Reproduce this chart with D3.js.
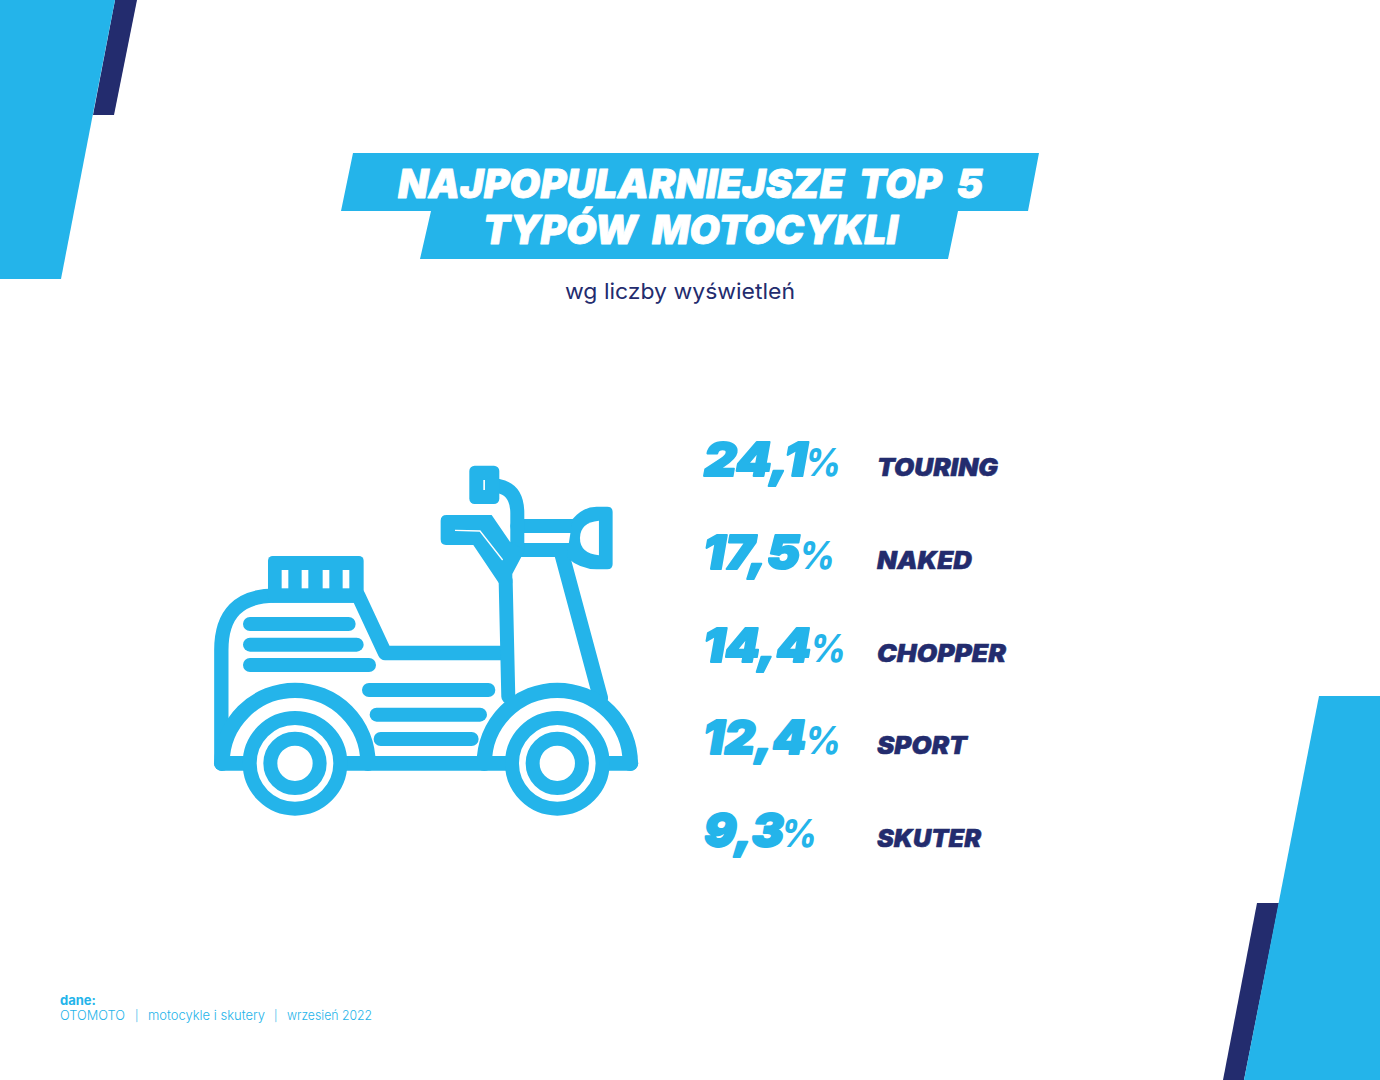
<!DOCTYPE html>
<html lang="pl">
<head>
<meta charset="utf-8">
<title>Najpopularniejsze top 5 typów motocykli</title>
<script src="https://cdn.jsdelivr.net/npm/d3@7/dist/d3.min.js"></script>
<style>html,body{margin:0;padding:0;background:#fff}svg{display:block}text{font-family:Inter,"Open Sans",sans-serif}</style>
</head>
<body>
<svg id="c" width="1380" height="1080"></svg>
<script>
// Data
const categories = ["TOURING", "NAKED", "CHOPPER", "SPORT", "SKUTER"];
const shares = [24.1, 17.5, 14.4, 12.4, 9.3];
const titleLines = ["NAJPOPULARNIEJSZE TOP 5", "TYPÓW MOTOCYKLI"];
const subtitle = "wg liczby wyświetleń";
const sourceHead = "dane:";
const sourceParts = ["OTOMOTO", "|", "motocykle i skutery", "|", "wrzesień 2022"];

// Layout (fitted widths)
const numberWidths = [103, 97, 108, 103, 80];
const numberStart = [704, 703, 703, 703, 704];
const percentStart = [805, 799, 810, 805, 781];
const labelWidths = [121, 95, 129, 90, 104];
const sourceX = [60, 135, 148, 274, 287];
const sourceW = [65, 0, 117, 0, 85];

const BLUE = "#24b4ea", NAVY = "#232c6e";
const svg = d3.select("#c");
const line = d3.line();
const poly = (pts, fill) => svg.append("path").attr("d", line(pts) + "Z").attr("fill", fill);

// Corner decorations and banner
poly([[115,0],[137,0],[114,115],[93,115]], NAVY);
poly([[0,0],[115,0],[61,279],[0,279]], BLUE);
poly([[1257,903],[1279,903],[1244,1080],[1223,1080]], NAVY);
poly([[1319,696],[1380,696],[1380,1080],[1244,1080]], BLUE);
poly([[353,153],[1039,153],[1028,211],[958,211],[948,259],[420,259],[431,211],[341,211]], BLUE);

function fit(t, w) {
  if (w) t.attr("textLength", w).attr("lengthAdjust", "spacingAndGlyphs");
  return t;
}
function heavy(t, color, sw) {
  return t.attr("fill", color).attr("stroke", color).attr("stroke-width", sw)
    .attr("stroke-linejoin", "round").attr("font-weight", 900).attr("font-style", "italic");
}

// Title
const titleY = d3.scalePoint().domain(titleLines).range([198, 244]);
const titleX = [398, 483], titleW = [585, 415];
titleLines.forEach((d, i) => {
  heavy(fit(svg.append("text").attr("x", titleX[i]).attr("y", titleY(d)).attr("font-size", 40)
    .attr("word-spacing", 7).text(d), titleW[i]), "#fff", 0.8);
});
fit(svg.append("text").attr("x", 565).attr("y", 299).attr("font-size", 22).attr("font-weight", 400).attr("fill", NAVY).text(subtitle), 230);

// Rows
const rowY = d3.scalePoint().domain(categories).range([476, 847]);
const fmt = d3.formatLocale({decimal: ",", thousands: " ", grouping: [3], currency: ["", ""]}).format(".1f");
const rows = svg.append("g").selectAll("g").data(categories).join("g");
rows.each(function (cat, i) {
  const g = d3.select(this), y = rowY(cat);
  heavy(fit(g.append("text").attr("x", numberStart[i]).attr("y", y).attr("font-size", 47).text(fmt(shares[i])), numberWidths[i]), BLUE, 2);
  fit(g.append("text").attr("x", percentStart[i]).attr("y", y).attr("font-size", 38)
    .attr("font-weight", 800).attr("font-style", "italic").attr("fill", BLUE).text("%"), 36);
  heavy(fit(g.append("text").attr("x", 877).attr("y", y).attr("font-size", 24).text(cat), labelWidths[i]), NAVY, 0.5);
});

// Source
svg.append("text").attr("x", 60).attr("y", 1005).attr("font-size", 13).attr("font-weight", 700).attr("fill", BLUE).text(sourceHead);
sourceParts.forEach((d, i) => {
  fit(svg.append("text").attr("x", sourceX[i]).attr("y", 1020).attr("font-size", d === "|" ? 11 : 13).attr("font-weight", 300).attr("fill", BLUE).text(d), sourceW[i]);
});

// Scooter icon, drawn in a 3x grid
const ic = svg.append("g").attr("transform", "translate(200,450) scale(0.3333)");
const stroke = (d, w = 42) => ic.append("path").attr("d", d).attr("fill", "none").attr("stroke", BLUE)
  .attr("stroke-width", w).attr("stroke-linecap", "round").attr("stroke-linejoin", "round");
const fill = (d, c = BLUE) => ic.append("path").attr("d", d).attr("fill", c);

// body outline
stroke("M64,940 L64,600 Q64,437 225,437 L475,437 L555,609 L915,609", 43);
stroke("M917,390 L925,740", 42);
stroke("M1085,310 L1202,745", 45);
// white inside of fender zones
[[285,940],[1072,940]].forEach(([cx, cy]) => {
  fill(`M${cx-219},${cy-22} A219,219 0 0 1 ${cx+219},${cy-22} Z`, "#fff");
  stroke(`M${cx-219},${cy} A219,219 0 0 1 ${cx+219},${cy}`, 46);
});
// base
stroke("M64,940 L1293,940", 44);
// slats
[[522,150,446],[584,150,470],[645,150,507],[720,507,865],[794,530,840],[867,542,815]].forEach(([y, a, b]) => {
  stroke(`M${a},${y} L${b},${y}`, 42);
});
// top box with vents
ic.append("rect").attr("x", 204).attr("y", 318).attr("width", 287).attr("height", 140).attr("rx", 14).attr("fill", BLUE);
[245, 305, 368, 428].forEach(x => ic.append("rect").attr("x", x).attr("y", 360).attr("width", 20).attr("height", 55).attr("fill", "#fff"));
// handlebar frame
stroke("M952,228 L1120,228", 42);
stroke("M925,300 L1120,300", 42);
stroke("M895,108 Q952,118 952,190 L952,300", 42);
// grip and neck
fill("M740,195 L875,195 L930,275 L975,300 L937,372 L937,400 L897,400 L820,285 L738,285 Q722,285 722,268 L722,212 Q722,195 740,195 Z");
ic.append("path").attr("d", "M765,241 L840,243 L908,330").attr("fill", "none").attr("stroke", "#fff").attr("stroke-width", 4);
// mirror
ic.append("rect").attr("x", 808).attr("y", 47).attr("width", 90).attr("height", 115).attr("rx", 16).attr("fill", BLUE);
ic.append("rect").attr("x", 850).attr("y", 90).attr("width", 5).attr("height", 30).attr("fill", "#fff");
// lamp
fill("M1118,207 Q1150,170 1190,170 L1222,170 Q1238,170 1238,186 L1238,342 Q1238,358 1222,358 L1190,358 Q1140,358 1100,322 Z");
fill("M1197,212 L1197,316 Q1140,310 1140,264 Q1140,218 1197,212 Z", "#fff");
// wheels
[285, 1072].forEach(cx => {
  ic.append("circle").attr("cx", cx).attr("cy", 940).attr("r", 136).attr("fill", "#fff").attr("stroke", BLUE).attr("stroke-width", 42);
  ic.append("circle").attr("cx", cx).attr("cy", 940).attr("r", 74).attr("fill", "#fff").attr("stroke", BLUE).attr("stroke-width", 42);
});
</script>
</body>
</html>
